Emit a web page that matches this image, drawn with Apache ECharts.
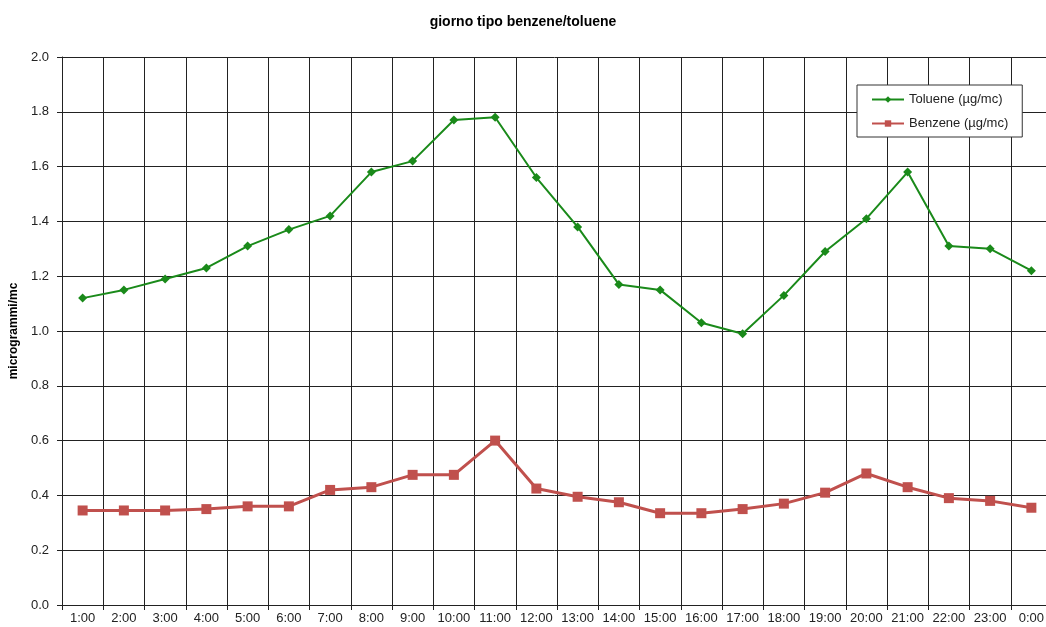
<!DOCTYPE html>
<html>
<head>
<meta charset="utf-8">
<script src="https://cdn.jsdelivr.net/npm/echarts@6/dist/echarts.min.js"></script>
<style>
  html, body { margin: 0; padding: 0; background: #fff; }
  #chart { width: 1046px; height: 627px; }
</style>
</head>
<body>
<div id="chart"></div>
<script>
  // ore del giorno tipo
  var ore = ['1:00','2:00','3:00','4:00','5:00','6:00','7:00','8:00','9:00','10:00','11:00','12:00',
             '13:00','14:00','15:00','16:00','17:00','18:00','19:00','20:00','21:00','22:00','23:00','0:00'];
  var toluene = [1.12,1.15,1.19,1.23,1.31,1.37,1.42,1.58,1.62,1.77,1.78,1.56,
                 1.38,1.17,1.15,1.03,0.99,1.13,1.29,1.41,1.58,1.31,1.30,1.22];
  var benzene = [0.345,0.345,0.345,0.35,0.36,0.36,0.42,0.43,0.475,0.475,0.60,0.425,
                 0.395,0.375,0.335,0.335,0.35,0.37,0.41,0.48,0.43,0.39,0.38,0.355];

  var chart = echarts.init(document.getElementById('chart'));
  var font = 'Liberation Sans, Arial, sans-serif';

  chart.setOption({
    animation: false,
    title: {
      text: 'giorno tipo benzene/toluene',
      left: 'center',
      top: 10,
      textStyle: { fontFamily: font, fontSize: 14, fontWeight: 'bold', color: '#000' }
    },
    legend: {
      orient: 'vertical',
      left: 857,
      top: 85,
      padding: [8, 14, 7, 14],
      itemGap: 11,
      itemWidth: 32,
      itemHeight: 8,
      borderColor: '#333',
      borderWidth: 1,
      backgroundColor: '#fff',
      textStyle: { fontFamily: font, fontSize: 13, color: '#222' },
      data: ['Toluene (µg/mc)', 'Benzene (µg/mc)']
    },
    // il grafico originale e' tagliato a destra
    grid: { left: 62, width: 990, top: 57, bottom: 22, outerBoundsMode: 'none' },
    xAxis: {
      type: 'category',
      data: ore,
      boundaryGap: true,
      axisLine: { lineStyle: { color: '#222', width: 1 } },
      axisTick: { show: true, length: 5, lineStyle: { color: '#222' } },
      axisLabel: { fontFamily: font, fontSize: 13, color: '#222', margin: 7, interval: 0 },
      splitLine: { show: true, interval: 0, lineStyle: { color: '#222', width: 1 } }
    },
    yAxis: {
      type: 'value',
      min: 0,
      max: 2,
      interval: 0.2,
      name: 'microgrammi/mc',
      nameLocation: 'middle',
      nameGap: 40,
      nameTextStyle: { fontFamily: font, fontSize: 12, fontWeight: 'bold', color: '#000' },
      axisLine: { show: true, lineStyle: { color: '#222', width: 1 } },
      axisTick: { show: true, length: 5, lineStyle: { color: '#222' } },
      axisLabel: {
        fontFamily: font, fontSize: 13, color: '#222', margin: 13,
        formatter: function (v) { return v.toFixed(1); }
      },
      splitLine: { show: true, lineStyle: { color: '#222', width: 1 } }
    },
    series: [
      {
        name: 'Toluene (µg/mc)',
        type: 'line',
        data: toluene,
        symbol: 'diamond',
        symbolSize: 9,
        itemStyle: { color: '#1a8a1a' },
        lineStyle: { color: '#1a8a1a', width: 2 }
      },
      {
        name: 'Benzene (µg/mc)',
        type: 'line',
        data: benzene,
        symbol: 'rect',
        symbolSize: 10,
        itemStyle: { color: '#c0504d' },
        lineStyle: { color: '#c0504d', width: 3 }
      }
    ]
  });
</script>
</body>
</html>
